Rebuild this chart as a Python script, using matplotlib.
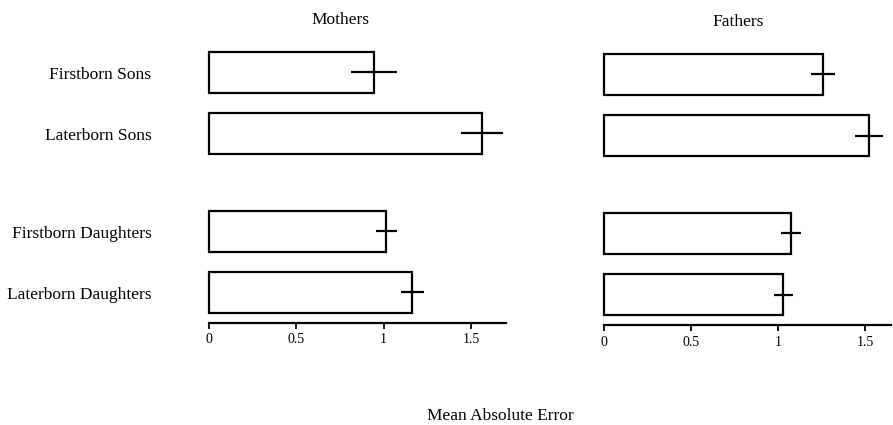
import matplotlib
matplotlib.use('Agg')
import matplotlib.pyplot as plt

plt.rcParams['font.family'] = ['Liberation Serif', 'DejaVu Serif']

# data
groups = ['Firstborn Sons', 'Laterborn Sons', 'Firstborn Daughters', 'Laterborn Daughters']
mothers_mean = [0.945, 1.565, 1.015, 1.163]
mothers_err = [0.13, 0.12, 0.06, 0.065]
fathers_mean = [1.26, 1.523, 1.075, 1.03]
fathers_err = [0.07, 0.08, 0.058, 0.055]
xticks = [0, 0.5, 1, 1.5]
xticklabels = ['0', '0.5', '1', '1.5']

ypos = [0, 1, 2.6, 3.6]

fig = plt.figure(figsize=(8.93, 4.25), dpi=100)
ax_m = fig.add_axes([209 / 893, 0.24, 297 / 893, 0.666])
ax_f = fig.add_axes([604 / 893, 0.235, 287 / 893, 0.666])


def draw_panel(ax, means, errs, xmax, title, title_x):
    bars = ax.barh(ypos, means, height=0.67, color='white', edgecolor='black', linewidth=1.6)
    for b in bars:
        b.set_clip_on(False)
    for y, m, e in zip(ypos, means, errs):
        ax.plot([m - e, m + e], [y, y], color='black', linewidth=1.6, solid_capstyle='butt')
    ax.set_xlim(0, xmax)
    ax.set_ylim(4.1, -0.53)
    for s in ['top', 'right', 'left']:
        ax.spines[s].set_visible(False)
    ax.spines['bottom'].set_linewidth(1.6)
    ax.set_yticks([])
    ax.set_xticks(xticks)
    ax.set_xticklabels(xticklabels, fontsize=10)
    ax.tick_params(axis='x', direction='out', length=4.5, width=1.3, pad=3)
    ax.text(title_x, -0.86, title, ha='center', va='center', fontsize=12.5)


draw_panel(ax_m, mothers_mean, mothers_err, 1.70, 'Mothers', 0.75)
draw_panel(ax_f, fathers_mean, fathers_err, 1.65, 'Fathers', 0.77)

for y, name in zip(ypos, groups):
    ax_m.text(-0.33, y + 0.04, name, ha='right', va='center', fontsize=12.5)

fig.text(500 / 893, 1 - 416 / 425, 'Mean Absolute Error', ha='center', va='center', fontsize=12.5)

fig.savefig('out.png', dpi=100)
